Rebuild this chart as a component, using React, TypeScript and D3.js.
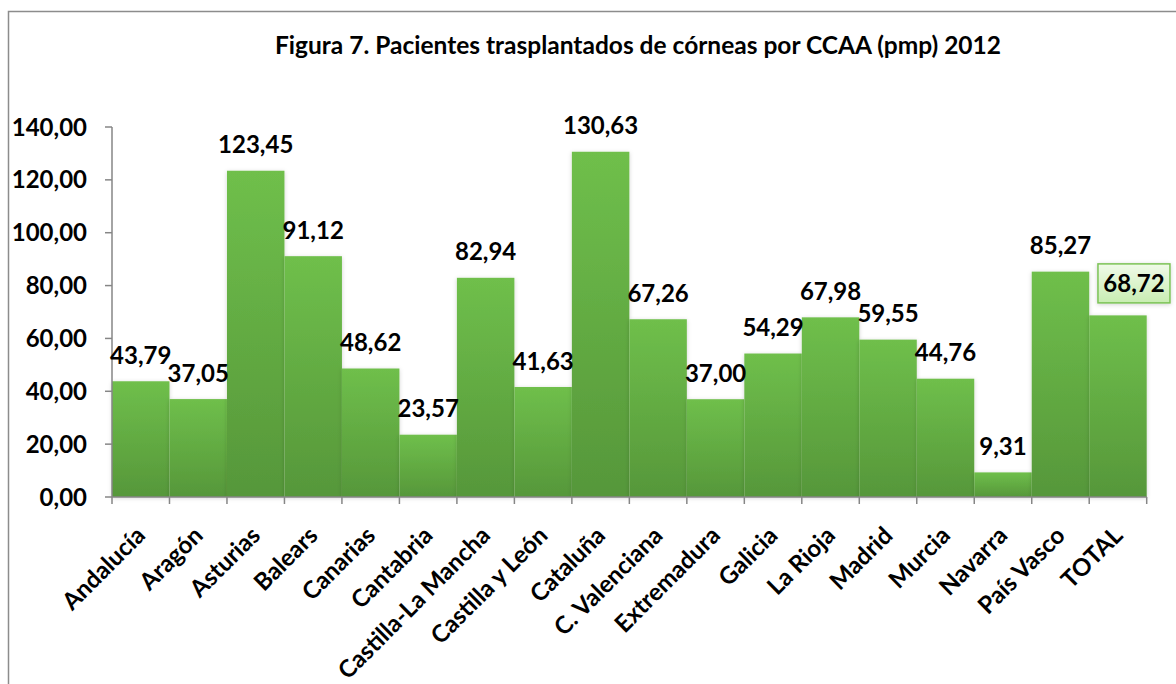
import React from "react";
import * as d3 from "d3";

const categories = [
  "Andalucía", "Aragón", "Asturias", "Balears", "Canarias", "Cantabria",
  "Castilla-La Mancha", "Castilla y León", "Cataluña", "C. Valenciana",
  "Extremadura", "Galicia", "La Rioja", "Madrid", "Murcia", "Navarra",
  "País Vasco", "TOTAL",
];
const values = [
  43.79, 37.05, 123.45, 91.12, 48.62, 23.57, 82.94, 41.63, 130.63, 67.26,
  37.0, 54.29, 67.98, 59.55, 44.76, 9.31, 85.27, 68.72,
];
const yTicks = [0, 20, 40, 60, 80, 100, 120, 140];
const title = "Figura 7. Pacientes trasplantados de córneas por CCAA (pmp) 2012";

const W = 1176;
const H = 684;
const left = 112;
const right = 1146.7;
const top = 127;
const bottom = 497;
const FONT = "Lato, 'Open Sans', sans-serif";
const FS = 24;

const fmt = (v: number) => v.toFixed(2).replace(".", ",");

export default function App() {
  const x = d3.scaleBand<string>().domain(categories).range([left, right]).padding(0);
  const y = d3.scaleLinear().domain([0, 140]).range([bottom, top]);
  const bw = x.bandwidth();
  const last = categories.length - 1;

  return (
    <svg width={W} height={H} style={{ position: "absolute", left: 0, top: 0 }}>
      <defs>
        <linearGradient id="barGrad" x1="0" y1="0" x2="0" y2="1">
          <stop offset="0%" stopColor="#6fbf4b" />
          <stop offset="100%" stopColor="#56973a" />
        </linearGradient>
        <linearGradient id="boxGrad" x1="0" y1="0" x2="0" y2="1">
          <stop offset="0%" stopColor="#f0fae8" />
          <stop offset="100%" stopColor="#c8edb2" />
        </linearGradient>
        <filter id="shadow" x="-20%" y="-20%" width="140%" height="140%">
          <feDropShadow dx="0" dy="1" stdDeviation="2" floodColor="#000" floodOpacity="0.18" />
        </filter>
      </defs>
      <rect x={0} y={0} width={W} height={H} fill="#fff" />
      <rect x={8.5} y={11.5} width={1200} height={700} fill="none" stroke="#8c8c8c" strokeWidth={1.5} />

      <text x={638} y={54} textAnchor="middle" fontFamily={FONT} fontWeight={700} fontSize={24.5} fill="#000">
        {title}
      </text>

      {/* bars */}
      {categories.map((c, i) => (
        <rect
          key={c}
          x={x(c)!}
          y={y(values[i])}
          width={bw}
          height={bottom - y(values[i])}
          fill="url(#barGrad)"
          filter="url(#shadow)"
        />
      ))}

      {/* y axis */}
      <line x1={left} x2={left} y1={top} y2={bottom} stroke="#868686" strokeWidth={1.5} />
      {yTicks.map((t) => (
        <g key={t}>
          <line x1={left - 7} x2={left} y1={y(t)} y2={y(t)} stroke="#868686" strokeWidth={1.5} />
          <text x={87} y={y(t)} dy="0.36em" textAnchor="end" fontFamily={FONT} fontWeight={700} fontSize={FS} fill="#000">
            {fmt(t)}
          </text>
        </g>
      ))}

      {/* x axis */}
      <line x1={left} x2={right} y1={bottom} y2={bottom} stroke="#868686" strokeWidth={1.5} />
      {categories.concat([""]).map((c, i) => {
        const xx = left + i * bw;
        return <line key={"t" + i} x1={xx} x2={xx} y1={bottom} y2={bottom + 7} stroke="#868686" strokeWidth={1.5} />;
      })}
      {categories.map((c) => {
        const cx = x(c)! + bw / 2 + 6;
        const cy = 537;
        return (
          <text
            key={"l" + c}
            x={cx}
            y={cy}
            textAnchor="end"
            transform={`rotate(-45 ${cx} ${cy})`}
            fontFamily={FONT}
            fontWeight={700}
            fontSize={FS}
            fill="#000"
          >
            {c}
          </text>
        );
      })}

      {/* value labels */}
      {categories.map((c, i) => {
        if (i === last) return null;
        const cx = x(c)! + bw / 2;
        return (
          <text key={"v" + c} x={cx} y={y(values[i]) - 26} dy="0.36em" textAnchor="middle" fontFamily={FONT} fontWeight={700} fontSize={FS} fill="#000">
            {fmt(values[i])}
          </text>
        );
      })}
      {(() => {
        const c = categories[last];
        const cx = x(c)! + bw / 2 + 16;
        const cy = y(values[last]) - 32;
        return (
          <g>
            <rect x={cx - 36} y={cy - 19.5} width={72} height={39} fill="url(#boxGrad)" stroke="#7cc356" strokeWidth={1.5} filter="url(#shadow)" />
            <text x={cx} y={cy} dy="0.36em" textAnchor="middle" fontFamily={FONT} fontWeight={700} fontSize={FS} fill="#000">
              {fmt(values[last])}
            </text>
          </g>
        );
      })()}
    </svg>
  );
}
